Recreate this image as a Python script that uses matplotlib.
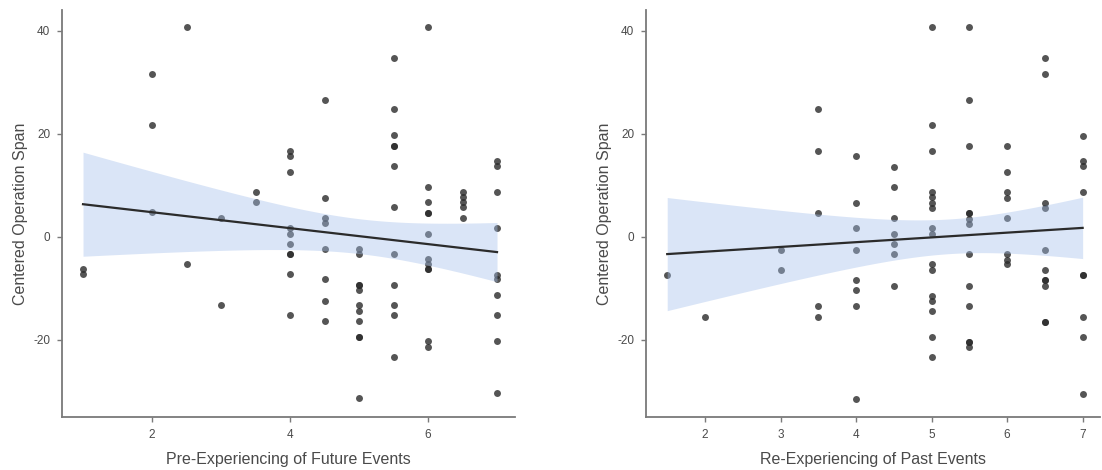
import matplotlib.pyplot as plt
import numpy as np

# Pre-experiencing of future events vs. centered operation span
future_x = [1, 1,
            2, 2, 2,
            2.5, 2.5,
            3, 3,
            3.5, 3.5,
            4, 4, 4, 4, 4, 4, 4, 4, 4, 4,
            4.5, 4.5, 4.5, 4.5, 4.5, 4.5, 4.5, 4.5,
            5, 5, 5, 5, 5, 5, 5, 5, 5, 5, 5,
            5.5, 5.5, 5.5, 5.5, 5.5, 5.5, 5.5, 5.5, 5.5, 5.5, 5.5, 5.5,
            6, 6, 6, 6, 6, 6, 6, 6, 6, 6, 6, 6,
            6.5, 6.5, 6.5, 6.5, 6.5,
            7, 7, 7, 7, 7, 7, 7, 7, 7, 7]
future_y = [-6.3, -7.3,
            31.6, 21.6, 4.7,
            40.6, -5.3,
            3.7, -13.3,
            8.7, 6.7,
            16.6, 15.6, 12.6, 1.7, 0.6, -1.4, -3.3, -3.3, -7.3, -15.3,
            26.6, 7.6, 3.7, 2.6, -2.4, -8.3, -12.4, -16.3,
            -2.4, -3.4, -9.3, -9.3, -10.4, -13.3, -14.4, -16.3, -19.4, -19.4, -31.3,
            34.6, 24.7, 19.7, 17.6, 17.6, 13.7, 5.8, -3.4, -9.3, -13.3, -15.3, -23.3,
            40.6, 9.7, 6.7, 4.6, 4.6, 0.6, -4.3, -5.4, -6.3, -6.3, -20.3, -21.4,
            8.7, 7.7, 6.7, 5.7, 3.7,
            14.6, 13.7, 8.7, 1.6, -7.4, -8.3, -11.3, -15.3, -20.3, -30.3]

# Re-experiencing of past events vs. centered operation span
past_x = [1.5,
          2,
          3, 3,
          3.5, 3.5, 3.5, 3.5, 3.5,
          4, 4, 4, 4, 4, 4, 4, 4,
          4.5, 4.5, 4.5, 4.5, 4.5, 4.5, 4.5,
          5, 5, 5, 5, 5, 5, 5, 5, 5, 5, 5, 5, 5, 5, 5, 5,
          5.5, 5.5, 5.5, 5.5, 5.5, 5.5, 5.5, 5.5, 5.5, 5.5, 5.5, 5.5, 5.5,
          6, 6, 6, 6, 6, 6, 6, 6,
          6.5, 6.5, 6.5, 6.5, 6.5, 6.5, 6.5, 6.5, 6.5, 6.5, 6.5,
          7, 7, 7, 7, 7, 7, 7, 7, 7]
past_y = [-7.4,
          -15.5,
          -2.5, -6.4,
          24.7, 16.6, 4.6, -13.5, -15.5,
          15.6, 6.5, 1.6, -2.5, -8.4, -10.4, -13.5, -31.5,
          13.6, 9.6, 3.6, 0.6, -1.4, -3.4, -9.5,
          40.6, 21.6, 16.6, 8.7, 7.7, 6.6, 5.6, 1.6, 0.6, -5.4, -6.5, -11.5,
          -12.4, -14.4, -19.4, -23.4,
          40.6, 26.6, 17.6, 4.6, 4.6, 3.5, 2.5, -3.4, -9.5, -13.5, -20.4, -20.4, -21.5,
          17.6, 12.6, 8.7, 7.6, 3.6, -3.4, -4.5, -5.4,
          34.6, 31.6, 6.6, 5.6, -2.5, -6.5, -8.5, -8.5, -9.5, -16.5, -16.5,
          19.6, 14.6, 13.7, 8.6, -7.5, -7.5, -15.5, -19.5, -30.5]

y_ticks = [-20, 0, 20, 40]
T_CRIT = 1.99  # two-sided 95% t value, ~78 df

TEXT = "#4a4a4a"
SPINE = "#7a7a7a"


def fit_band(x, y):
    """Least-squares line with a 95% confidence band for the mean."""
    x = np.asarray(x, float)
    y = np.asarray(y, float)
    slope, icept = np.polyfit(x, y, 1)
    n = len(x)
    resid = y - (slope * x + icept)
    s = np.sqrt(np.sum(resid ** 2) / (n - 2))
    grid = np.linspace(x.min(), x.max(), 100)
    fit = slope * grid + icept
    se = s * np.sqrt(1 / n + (grid - x.mean()) ** 2 / np.sum((x - x.mean()) ** 2))
    return grid, fit, fit - T_CRIT * se, fit + T_CRIT * se


def draw_panel(ax, x, y, xlabel, xticks, xlim):
    ax.scatter(x, y, s=25, color="#2a2a2a", alpha=0.8, linewidths=0, zorder=2)
    grid, fit, lo, hi = fit_band(x, y)
    ax.fill_between(grid, lo, hi, color=(0.64, 0.75, 0.92), alpha=0.4,
                    linewidth=0, zorder=3)
    ax.plot(grid, fit, color="#2b2b2b", linewidth=1.6, zorder=4)

    ax.set_xlim(*xlim)
    ax.set_ylim(-35, 44)
    ax.set_xticks(xticks)
    ax.set_xticklabels([str(t) for t in xticks])
    ax.set_yticks(y_ticks)
    ax.set_yticklabels([str(t) for t in y_ticks])
    ax.set_xlabel(xlabel, fontsize=11.5, color=TEXT, labelpad=8)
    ax.set_ylabel("Centered Operation Span", fontsize=11.5, color=TEXT, labelpad=4)

    for side in ("top", "right"):
        ax.spines[side].set_visible(False)
    for side in ("left", "bottom"):
        ax.spines[side].set_color(SPINE)
        ax.spines[side].set_linewidth(1.3)
    ax.tick_params(length=3.5, width=1, color=SPINE, labelsize=8.5,
                   labelcolor=TEXT, pad=5)


def main():
    plt.rcParams["font.family"] = ["Liberation Sans", "DejaVu Sans"]
    fig = plt.figure(figsize=(11.02, 4.70), dpi=100)
    ax1 = fig.add_axes([0.0563, 0.1128, 0.411, 0.866])
    ax2 = fig.add_axes([0.5862, 0.1128, 0.412, 0.866])

    draw_panel(ax1, future_x, future_y, "Pre-Experiencing of Future Events",
               [2, 4, 6], (0.696, 7.26))
    draw_panel(ax2, past_x, past_y, "Re-Experiencing of Past Events",
               [2, 3, 4, 5, 6, 7], (1.219, 7.23))

    fig.savefig("out.png", dpi=100)


if __name__ == "__main__":
    main()
